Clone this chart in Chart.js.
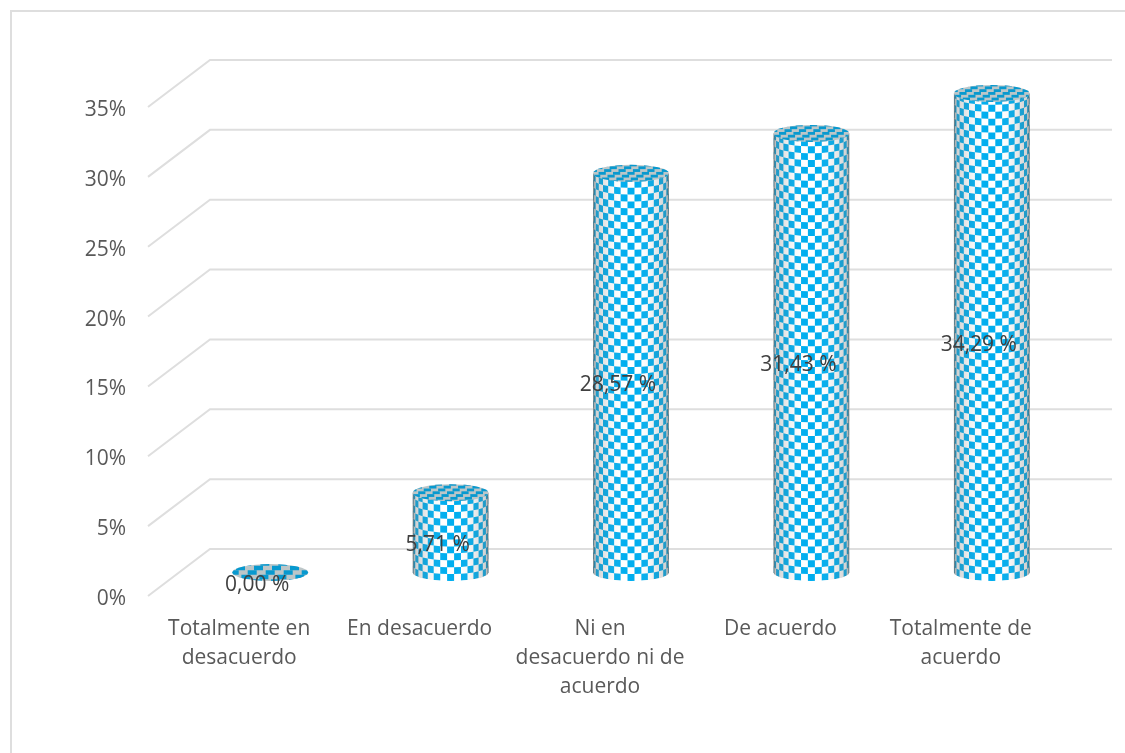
<!DOCTYPE html>
<html><head><meta charset="utf-8">
<style>html,body{margin:0;padding:0;background:#fff}canvas{display:block}</style>
<script src="https://cdn.jsdelivr.net/npm/chart.js@4"></script></head>
<body><canvas id="c" width="1125" height="753"></canvas>
<script>
const categories = [["Totalmente en","desacuerdo"],"En desacuerdo",["Ni en","desacuerdo ni de","acuerdo"],"De acuerdo",["Totalmente de","acuerdo"]];
const values = [0, 5.71, 28.57, 31.43, 34.29];
const valueLabels = ["0,00 %","5,71 %","28,57 %","31,43 %","34,29 %"];
const FONT = '"Open Sans", sans-serif';
const depth = {x:62, y:47};
const labelLift = 3;
const BLUE='#00AEEF', TOPBLUE='#0899CF', TOPGREY='#BCC6C8';
function cylinder(ctx, bar){
  const cx=bar.x, r=bar.width/2, ry=8.5, top=bar.y, base=bar.base;
  const cols=17, rowH=6.9;
  ctx.save();
  ctx.beginPath();
  ctx.moveTo(cx-r,top);ctx.lineTo(cx-r,base);
  ctx.ellipse(cx,base,r,ry,0,Math.PI,0,true);
  ctx.lineTo(cx+r,top);ctx.closePath();
  if(base-top>1){
  ctx.save();ctx.clip();
  ctx.fillStyle='#fff';ctx.fillRect(cx-r-1,top-ry,2*r+2,base-top+2*ry+2);
  ctx.fillStyle=BLUE;
  const rows=Math.ceil((base-top+2*ry)/rowH)+2;
  for(let c=0;c<cols;c++){
    const a1=Math.PI*c/cols,a2=Math.PI*(c+1)/cols;
    const x1=cx-r*Math.cos(a1),x2=cx-r*Math.cos(a2);
    const y1=ry*Math.sin(a1),y2=ry*Math.sin(a2);
    for(let k=0;k<rows;k++){
      if((k+c)%2) continue;
      const b=base-k*rowH;
      ctx.beginPath();
      ctx.moveTo(x1,b+y1);ctx.lineTo(x2,b+y2);
      ctx.lineTo(x2,b+y2-rowH);ctx.lineTo(x1,b+y1-rowH);ctx.closePath();ctx.fill();
    }
  }
  const g=ctx.createLinearGradient(cx-r,0,cx+r,0);
  g.addColorStop(0,'rgba(70,70,70,.7)');g.addColorStop(.035,'rgba(110,110,110,.32)');
  g.addColorStop(.2,'rgba(120,120,120,.12)');g.addColorStop(.42,'rgba(255,255,255,0)');
  g.addColorStop(.58,'rgba(255,255,255,0)');
  g.addColorStop(.8,'rgba(120,120,120,.12)');g.addColorStop(.965,'rgba(110,110,110,.32)');g.addColorStop(1,'rgba(70,70,70,.7)');
  ctx.fillStyle=g;ctx.fillRect(cx-r-1,top-ry,2*r+2,base-top+2*ry+2);
  ctx.restore();
  }
  ctx.beginPath();ctx.ellipse(cx,top,r,ry,0,0,Math.PI*2);ctx.save();ctx.clip();
  ctx.fillStyle=TOPGREY;ctx.fillRect(cx-r-1,top-ry-1,2*r+2,2*ry+2);
  ctx.fillStyle=TOPBLUE;
  const capRow=base-top>1?2.8:4.5, capCol=base-top>1?7.2:9;
  for(let j=-4;j<=4;j++){for(let i=-7;i<=7;i++){
    if((i+j+100)%2) continue;
    const yy=top+j*capRow, xx=cx+i*capCol+j*capRow*0.6;
    ctx.fillRect(xx-capCol/2,yy-capRow/2,capCol,capRow);
  }}
  ctx.restore();
  ctx.restore();
}
const sceneryPlugin={id:'scenery',
  beforeDraw(chart){
    const ctx=chart.ctx;
    ctx.save();ctx.strokeStyle='#DEDEDE';ctx.lineWidth=2;
    ctx.beginPath();ctx.moveTo(11,753);ctx.lineTo(11,11);ctx.lineTo(1125,11);ctx.stroke();
    ctx.restore();
  },
  beforeDatasetsDraw(chart){
    const ctx=chart.ctx,{left,right}=chart.chartArea,ys=chart.scales.y;
    ctx.save();ctx.strokeStyle='#DEDEDE';ctx.lineWidth=2;
    ctx.translate(-1,-labelLift);
    ys.ticks.forEach(t=>{
      const y=ys.getPixelForValue(t.value);
      ctx.beginPath();ctx.moveTo(left,y);ctx.lineTo(left+depth.x,y-depth.y);ctx.lineTo(right+depth.x,y-depth.y);ctx.stroke();
    });
    ctx.restore();
  },
  afterDatasetsDraw(chart){
    const ctx=chart.ctx,meta=chart.getDatasetMeta(0);
    ctx.save();ctx.translate(depth.x/2,-depth.y/2-labelLift);
    meta.data.forEach(b=>cylinder(ctx,b));
    ctx.restore();
    ctx.save();ctx.font='21px '+FONT;ctx.fillStyle='#404040';ctx.textAlign='center';ctx.textBaseline='middle';
    meta.data.forEach((b,i)=>{
      ctx.fillText(valueLabels[i],b.x+18,(b.y+b.base)/2-14);
    });
    ctx.restore();
  }
};
new Chart(document.getElementById('c'),{
  type:'bar',
  data:{labels:categories,datasets:[{data:values,backgroundColor:'rgba(0,0,0,0)',barPercentage:.42,categoryPercentage:1}]},
  plugins:[sceneryPlugin],
  options:{responsive:false,animation:false,
    layout:{padding:{left:0,right:74,top:110,bottom:0}},
    plugins:{legend:{display:false},title:{display:false},tooltip:{enabled:false}},
    scales:{
      x:{grid:{display:false},border:{display:false},
        ticks:{color:'#595959',font:{family:FONT,size:21,lineHeight:1.38},padding:8,maxRotation:0,autoSkip:false},
        afterFit(s){s.height=154;}},
      y:{min:0,max:35,grid:{display:false},border:{display:false},
        ticks:{stepSize:5,color:'#595959',font:{family:FONT,size:21},padding:15,callback:v=>v+'%'},
        afterFit(s){s.width=149;}}
    }
  }
});
</script></body></html>
